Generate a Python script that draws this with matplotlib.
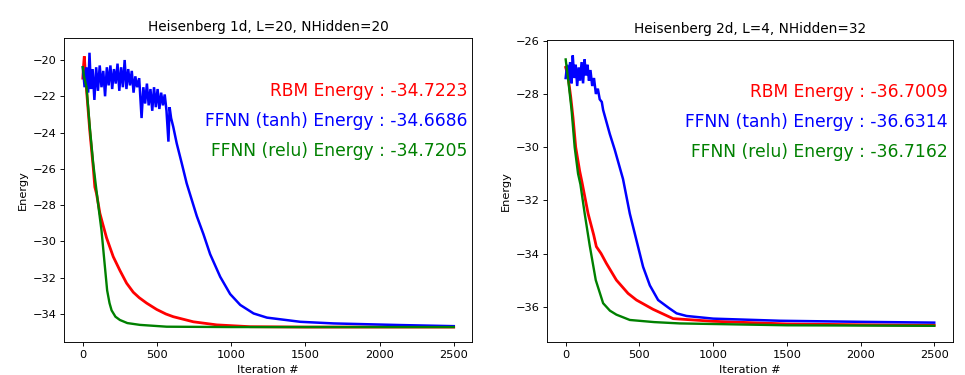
import matplotlib
matplotlib.use("Agg")
import matplotlib.pyplot as plt

# ---------------- Data ----------------
# Left panel: Heisenberg 1d, L=20, NHidden=20
l_rbm_it = [0, 5, 10, 25, 47, 70, 81, 92, 115, 133, 160, 205, 250, 295, 340, 380, 430,
            498, 560, 610, 745, 903, 1128, 1500, 2000, 2500]
l_rbm_e = [-21.0, -20.3, -19.8, -21.65, -23.9, -25.9, -27.0, -27.35, -28.45, -29.0,
           -29.8, -30.84, -31.6, -32.3, -32.8, -33.1, -33.4, -33.75, -34.0, -34.15,
           -34.43, -34.6, -34.7, -34.72, -34.72, -34.72]

l_tanh_it = [0, 12, 24, 36, 45, 55, 66, 78, 90, 102, 114, 126, 138, 150, 162, 174, 186,
             198, 210, 222, 234, 246, 258, 270, 282, 294, 306, 318, 330, 342, 354, 366,
             380, 396, 408, 420, 432, 444, 456, 468, 480, 492, 504, 516, 528, 540, 552,
             564, 577, 585, 595, 610, 633, 667, 700, 734, 768, 813, 858, 926, 993, 1061,
             1151, 1241, 1466, 1691, 2142, 2500]
l_tanh_e = [-20.4, -21.5, -20.4, -21.8, -19.6, -21.6, -20.5, -22.2, -20.4, -21.7, -20.3,
            -21.5, -20.6, -22.0, -20.4, -21.4, -20.3, -21.6, -20.5, -21.3, -20.2, -21.7,
            -20.4, -21.5, -20.0, -21.6, -20.5, -21.4, -20.6, -21.8, -20.9, -21.5,
            -21.0, -23.2, -21.5, -22.4, -21.3, -22.5, -21.6, -22.8, -21.5, -22.6, -21.6,
            -22.7, -21.8, -22.5, -21.9, -22.8, -24.5, -22.6, -23.2, -23.7, -24.6, -25.7,
            -26.8, -27.7, -28.6, -29.6, -30.7, -31.95, -32.9, -33.5, -33.97, -34.2,
            -34.43, -34.52, -34.61, -34.67]

l_relu_it = [0, 8, 25, 47, 70, 92, 115, 126, 142, 164, 180, 194, 220, 250, 300, 385,
             565, 1000, 1500, 2000, 2500]
l_relu_e = [-20.4, -20.9, -21.5, -23.7, -25.7, -27.2, -28.7, -29.4, -30.8, -32.7, -33.4,
            -33.8, -34.15, -34.33, -34.5, -34.6, -34.7, -34.72, -34.72, -34.72, -34.72]

# Right panel: Heisenberg 2d, L=4, NHidden=32
r_rbm_it = [0, 15, 34, 50, 68, 95, 110, 152, 190, 208, 240, 276, 344, 423, 480, 593,
            729, 1001, 1500, 2000, 2500]
r_rbm_e = [-27.0, -27.3, -28.1, -28.9, -30.0, -30.9, -31.3, -32.5, -33.3, -33.74, -34.0,
           -34.37, -35.0, -35.5, -35.75, -36.1, -36.45, -36.55, -36.65, -36.68, -36.7]

r_tanh_it = [0, 10, 20, 30, 40, 48, 58, 68, 78, 88, 98, 108, 118, 128, 138, 148, 158,
             168, 180, 192, 205, 218, 231, 245, 254, 299, 333, 389, 435, 480, 525, 571,
             627, 700, 752, 820, 1001, 1454, 2000, 2500]
r_tanh_e = [-27.4, -26.9, -27.5, -26.8, -27.6, -26.55, -27.4, -26.9, -27.7, -27.0, -27.5,
            -26.8, -27.6, -26.7, -27.3, -26.9, -27.5, -27.1, -27.7, -27.4, -28.0, -27.8,
            -28.2, -28.3, -28.6, -29.5, -30.1, -31.2, -32.5, -33.5, -34.5, -35.2, -35.75,
            -36.05, -36.25, -36.35, -36.45, -36.53, -36.57, -36.6]

r_relu_it = [0, 20, 40, 61, 84, 100, 129, 163, 204, 254, 300, 344, 435, 600, 774, 1500,
             2500]
r_relu_e = [-26.7, -27.6, -28.6, -30.0, -31.0, -31.4, -32.5, -33.7, -35.0, -35.87, -36.15,
            -36.3, -36.5, -36.58, -36.63, -36.7, -36.72]

titles = ["Heisenberg 1d, L=20, NHidden=20", "Heisenberg 2d, L=4, NHidden=32"]
labels_left = ["RBM Energy : -34.7223", "FFNN (tanh) Energy : -34.6686",
               "FFNN (relu) Energy : -34.7205"]
labels_right = ["RBM Energy : -36.7009", "FFNN (tanh) Energy : -36.6314",
                "FFNN (relu) Energy : -36.7162"]
x_ticks = [0, 500, 1000, 1500, 2000, 2500]
y_ticks_left = [-34, -32, -30, -28, -26, -24, -22, -20]
y_ticks_right = [-36, -34, -32, -30, -28, -26]

# ---------------- Figure ----------------
S = 0.82
plt.rcParams.update({
    "font.family": "DejaVu Sans",
    "xtick.labelsize": 10 * S,
    "ytick.labelsize": 10 * S,
    "xtick.major.size": 3.5 * S,
    "ytick.major.size": 3.5 * S,
    "xtick.major.width": 0.8 * S,
    "ytick.major.width": 0.8 * S,
    "xtick.major.pad": 3.5 * S,
    "ytick.major.pad": 3.5 * S,
    "axes.linewidth": 0.8 * S,
    "axes.labelpad": 4 * S,
})

fig = plt.figure(figsize=(9.65, 3.75), dpi=100)
ax1 = fig.add_axes([0.0666, 0.0872, 0.4228, 0.8123])
ax2 = fig.add_axes([0.5671, 0.0872, 0.4201, 0.8061])

colors = ["r", "b", "g"]
lws = [2.0, 1.8, 1.7]

panels = [
    (ax1, [(l_rbm_it, l_rbm_e), (l_tanh_it, l_tanh_e), (l_relu_it, l_relu_e)],
     labels_left, y_ticks_left, (-35.56, -18.77), [0.8096, 0.711, 0.6126]),
    (ax2, [(r_rbm_it, r_rbm_e), (r_tanh_it, r_tanh_e), (r_relu_it, r_relu_e)],
     labels_right, y_ticks_right, (-37.34, -25.97), [0.8125, 0.713, 0.614]),
]

for i, (ax, series, labs, yt, ylim, ty) in enumerate(panels):
    for (it, e), c, lw in zip(series, colors, lws):
        ax.plot(it, e, color=c, lw=lw, solid_joinstyle="miter")
    ax.set_xlim(-125, 2625)
    ax.set_ylim(*ylim)
    ax.set_xticks(x_ticks)
    ax.set_yticks(yt)
    ax.set_title(titles[i], fontsize=12 * S, pad=6 * S)
    ax.set_xlabel("Iteration #", fontsize=10 * S)
    ax.set_ylabel("Energy", fontsize=10 * S)
    for lab, c, y in zip(labs, colors, ty):
        ax.text(0.9877, y, lab, color=c, fontsize=15 * S, ha="right",
                va="baseline", transform=ax.transAxes)

fig.savefig("out.png", dpi=100)
